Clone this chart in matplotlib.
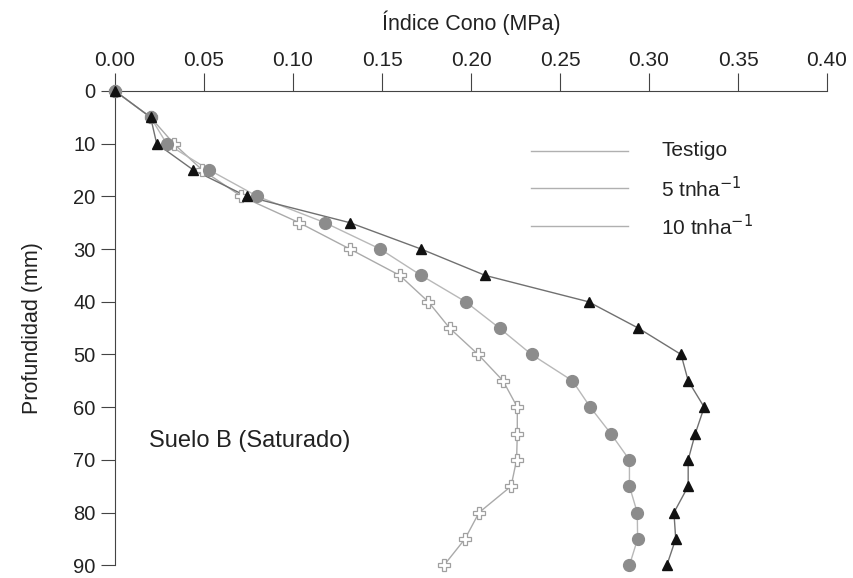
import matplotlib
matplotlib.use("Agg")
import matplotlib.pyplot as plt
import numpy as np

plt.rcParams['font.family'] = ['Liberation Sans', 'DejaVu Sans']

# profundidad (mm) y indice de cono (MPa) por tratamiento
profundidad = [0, 5, 10, 15, 20, 25, 30, 35, 40, 45, 50, 55, 60, 65, 70, 75, 80, 85, 90]
testigo = [0.0, 0.020, 0.033, 0.049, 0.071, 0.1035, 0.132, 0.160, 0.176, 0.188,
           0.204, 0.218, 0.226, 0.226, 0.2256, 0.2225, 0.2045, 0.1966, 0.1848]
t5 = [0.0, 0.020, 0.029, 0.053, 0.080, 0.118, 0.149, 0.172, 0.197, 0.216,
      0.234, 0.257, 0.267, 0.2785, 0.289, 0.289, 0.2934, 0.2936, 0.289]
t10 = [0.0, 0.020, 0.0234, 0.044, 0.074, 0.132, 0.172, 0.208, 0.266, 0.294,
       0.318, 0.322, 0.331, 0.326, 0.322, 0.322, 0.314, 0.315, 0.310]

etiquetas = ['Testigo', '5 tnha$^{-1}$', '10 tnha$^{-1}$']
xticks = np.arange(0, 0.41, 0.05)
yticks = np.arange(0, 91, 10)

fig = plt.figure(figsize=(8.54, 5.78), dpi=100)
ax = fig.add_axes([0.1347, 0.022, 0.8337, 0.8206])

# curvas
ax.plot(testigo, profundidad, color='#aaaaaa', lw=1.0, zorder=2, clip_on=False)
ax.plot(t5, profundidad, color='#b8b8b8', lw=1.0, zorder=2, clip_on=False)
ax.plot(t10, profundidad, color='#707070', lw=1.0, zorder=2, clip_on=False)

# marcadores
ax.plot(testigo, profundidad, ls='none', marker='P', ms=8.5, mfc='white',
        mec='#a0a0a0', mew=0.9, zorder=3, clip_on=False)
ax.plot(t5, profundidad, ls='none', marker='o', ms=8.5, mfc='#8c8c8c',
        mec='#8c8c8c', zorder=4, clip_on=False)
ax.plot(t10, profundidad, ls='none', marker='^', ms=6.5, mfc='#111111',
        mec='#111111', zorder=5, clip_on=False)

# leyenda con solo lineas
for i, lab in enumerate(etiquetas):
    y = 11.3 + i * 7.2
    ax.plot([0.2337, 0.288], [y, y], color='#b0b0b0', lw=1.0)
    ax.text(0.307, y, lab, fontsize=15, color='#222222', va='center', ha='left')

ax.text(0.019, 66.5, 'Suelo B (Saturado)', fontsize=17, color='#222222', va='center')

ax.set_xlim(0, 0.40)
ax.set_ylim(90, 0)
ax.xaxis.set_ticks_position('top')
ax.xaxis.set_label_position('top')
ax.set_xticks(xticks)
ax.set_xticklabels(['%.2f' % v for v in xticks])
ax.set_yticks(yticks)
ax.set_xlabel('Índice Cono (MPa)', fontsize=15.5, color='#222222', labelpad=15)
ax.set_ylabel('Profundidad (mm)', fontsize=15.5, color='#222222', labelpad=22)

for s in ['right', 'bottom']:
    ax.spines[s].set_visible(False)
for s in ['top', 'left']:
    ax.spines[s].set_color('#444444')
    ax.spines[s].set_linewidth(0.8)

ax.tick_params(axis='x', direction='out', length=13, width=0.8, color='#444444',
               labelsize=15, labelcolor='#222222', pad=2)
ax.tick_params(axis='y', direction='out', length=10, width=0.8, color='#444444',
               labelsize=14.5, labelcolor='#222222', pad=4)

fig.savefig('out.png', dpi=100)
